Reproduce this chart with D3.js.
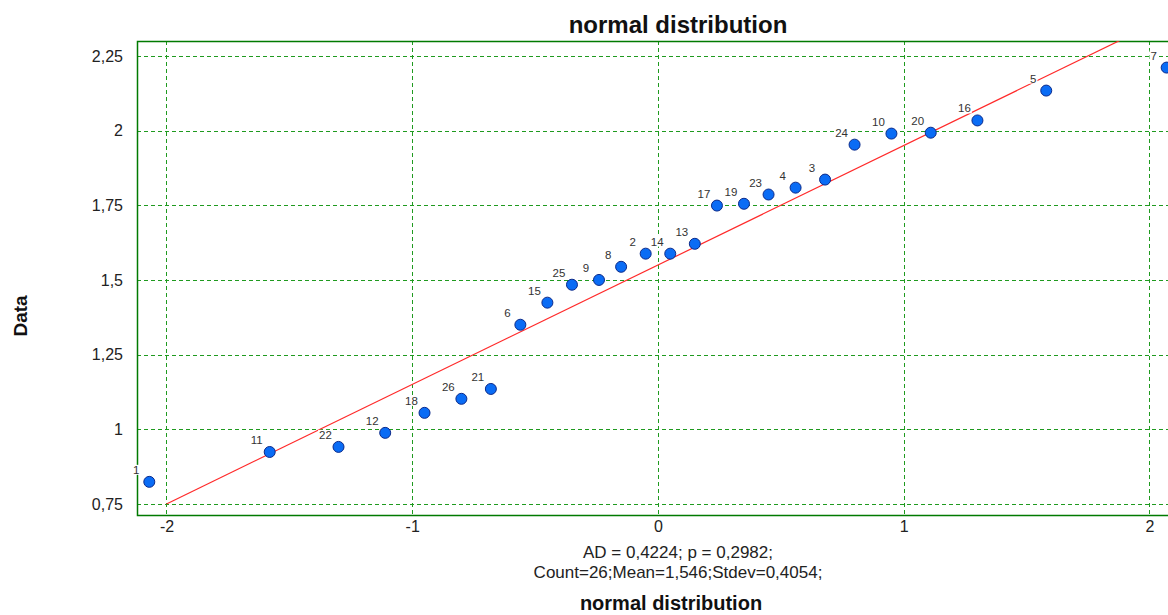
<!DOCTYPE html>
<html>
<head>
<meta charset="utf-8">
<script src="https://cdn.jsdelivr.net/npm/d3@7"></script>
<style>
  body { margin: 0; background: #fff; }
  text { font-family: "Liberation Sans", Arial, sans-serif; }
</style>
</head>
<body>
<div id="chart"></div>
<script>
var ids = [1, 11, 22, 12, 18, 26, 21, 6, 15, 25, 9, 8, 2, 14, 13, 17, 19, 23, 4, 3, 24, 10, 20, 16, 5, 7];
var quantiles = [-2.07, -1.58, -1.30, -1.11, -0.95, -0.80, -0.68, -0.56, -0.45, -0.35, -0.24, -0.15, -0.05,
                 0.05, 0.15, 0.24, 0.35, 0.45, 0.56, 0.68, 0.80, 0.95, 1.11, 1.30, 1.58, 2.07];
var values = [0.824, 0.924, 0.941, 0.988, 1.055, 1.102, 1.135, 1.350, 1.424, 1.484, 1.500, 1.544, 1.588,
              1.588, 1.621, 1.749, 1.755, 1.786, 1.809, 1.836, 1.953, 1.990, 1.993, 2.034, 2.134, 2.211];

// fitted line end points
var fitX = [-2, 2.2];
var fitY = [0.75, 2.43];

var xTicks = [-2, -1, 0, 1, 2];
var yTicks = [0.75, 1, 1.25, 1.5, 1.75, 2, 2.25];

var statsLines = ["AD = 0,4224; p = 0,2982;", "Count=26;Mean=1,546;Stdev=0,4054;"];

var width = 1168, height = 615;
var plotLeft = 137, plotRight = 1219, plotTop = 41, plotBottom = 515;

var svg = d3.select("#chart").append("svg")
  .attr("width", width)
  .attr("height", height);

var x = d3.scaleLinear().domain([-2.12, 2.283]).range([plotLeft, plotRight]);
var y = d3.scaleLinear().domain([0.713, 2.30]).range([plotBottom, plotTop]);

var comma = function(d) { return String(d).replace(".", ","); };

svg.append("clipPath").attr("id", "plot-clip")
  .append("rect")
  .attr("x", plotLeft).attr("y", plotTop)
  .attr("width", plotRight - plotLeft).attr("height", plotBottom - plotTop);

// grid
var grid = svg.append("g").attr("stroke", "#1f9a1f").attr("stroke-dasharray", "4,3").attr("stroke-width", 1);
grid.selectAll(".gx").data(xTicks).enter().append("line")
  .attr("x1", function(d) { return Math.round(x(d)) + 0.5; })
  .attr("x2", function(d) { return Math.round(x(d)) + 0.5; })
  .attr("y1", plotTop).attr("y2", plotBottom);
grid.selectAll(".gy").data(yTicks).enter().append("line")
  .attr("y1", function(d) { return Math.round(y(d)) + 0.5; })
  .attr("y2", function(d) { return Math.round(y(d)) + 0.5; })
  .attr("x1", plotLeft).attr("x2", plotRight);

// border
svg.append("path")
  .attr("d", "M" + plotRight + "," + (plotTop + 0.5) + "H" + (plotLeft + 0.5) + "V" + (plotBottom + 0.5) + "H" + plotRight)
  .attr("fill", "none")
  .attr("stroke", "#007a00")
  .attr("stroke-width", 1.5);

// fit line
svg.append("line")
  .attr("clip-path", "url(#plot-clip)")
  .attr("x1", x(fitX[0])).attr("y1", y(fitY[0]))
  .attr("x2", x(fitX[1])).attr("y2", y(fitY[1]))
  .attr("stroke", "#ff2a2a")
  .attr("stroke-width", 1.2);

// axes labels
var yAxis = svg.append("g")
  .attr("transform", "translate(" + plotLeft + ",0)")
  .call(d3.axisLeft(y).tickValues(yTicks).tickFormat(comma).tickSize(0).tickPadding(14));
var xAxis = svg.append("g")
  .attr("transform", "translate(0," + plotBottom + ")")
  .call(d3.axisBottom(x).tickValues(xTicks).tickFormat(function(d) { return d; }).tickSize(0).tickPadding(6));
[xAxis, yAxis].forEach(function(a) {
  a.select(".domain").remove();
  a.selectAll("text").attr("font-size", "16px").attr("fill", "#222")
    .style("font-family", "'Liberation Sans', Arial, sans-serif");
});

var pts = quantiles.map(function(q, i) { return { id: ids[i], q: q, v: values[i] }; });

// point labels with white background
var lbl = svg.append("g").selectAll("g").data(pts).enter().append("g");
lbl.append("text")
  .attr("x", function(d) { return x(d.q) - 13; })
  .attr("y", function(d) { return y(d.v) - 8; })
  .attr("text-anchor", "middle")
  .attr("font-size", "11.5px")
  .attr("fill", "#333")
  .text(function(d) { return d.id; });
lbl.each(function() {
  var g = d3.select(this);
  var b = g.select("text").node().getBBox();
  g.insert("rect", "text")
    .attr("x", b.x - 1).attr("y", b.y + 1)
    .attr("width", b.width + 2).attr("height", b.height - 2)
    .attr("fill", "#fff");
});

// points
svg.append("g").selectAll("circle").data(pts).enter().append("circle")
  .attr("cx", function(d) { return x(d.q); })
  .attr("cy", function(d) { return y(d.v); })
  .attr("r", 5.5)
  .attr("fill", "#0a6cf5")
  .attr("stroke", "#0b2a8a")
  .attr("stroke-width", 1);

// titles
svg.append("text")
  .attr("x", 678).attr("y", 33)
  .attr("text-anchor", "middle")
  .attr("font-size", "24px").attr("font-weight", "bold").attr("fill", "#111")
  .text("normal distribution");

svg.append("text")
  .attr("transform", "translate(27,316) rotate(-90)")
  .attr("text-anchor", "middle")
  .attr("font-size", "19px").attr("font-weight", "bold").attr("fill", "#111")
  .text("Data");

svg.append("g").selectAll("text").data(statsLines).enter().append("text")
  .attr("x", 678)
  .attr("y", function(d, i) { return 558 + i * 20; })
  .attr("text-anchor", "middle")
  .attr("font-size", "17px").attr("fill", "#222")
  .text(function(d) { return d; });

svg.append("text")
  .attr("x", 671).attr("y", 610)
  .attr("text-anchor", "middle")
  .attr("font-size", "20px").attr("font-weight", "bold").attr("fill", "#111")
  .text("normal distribution");
</script>
</body>
</html>
